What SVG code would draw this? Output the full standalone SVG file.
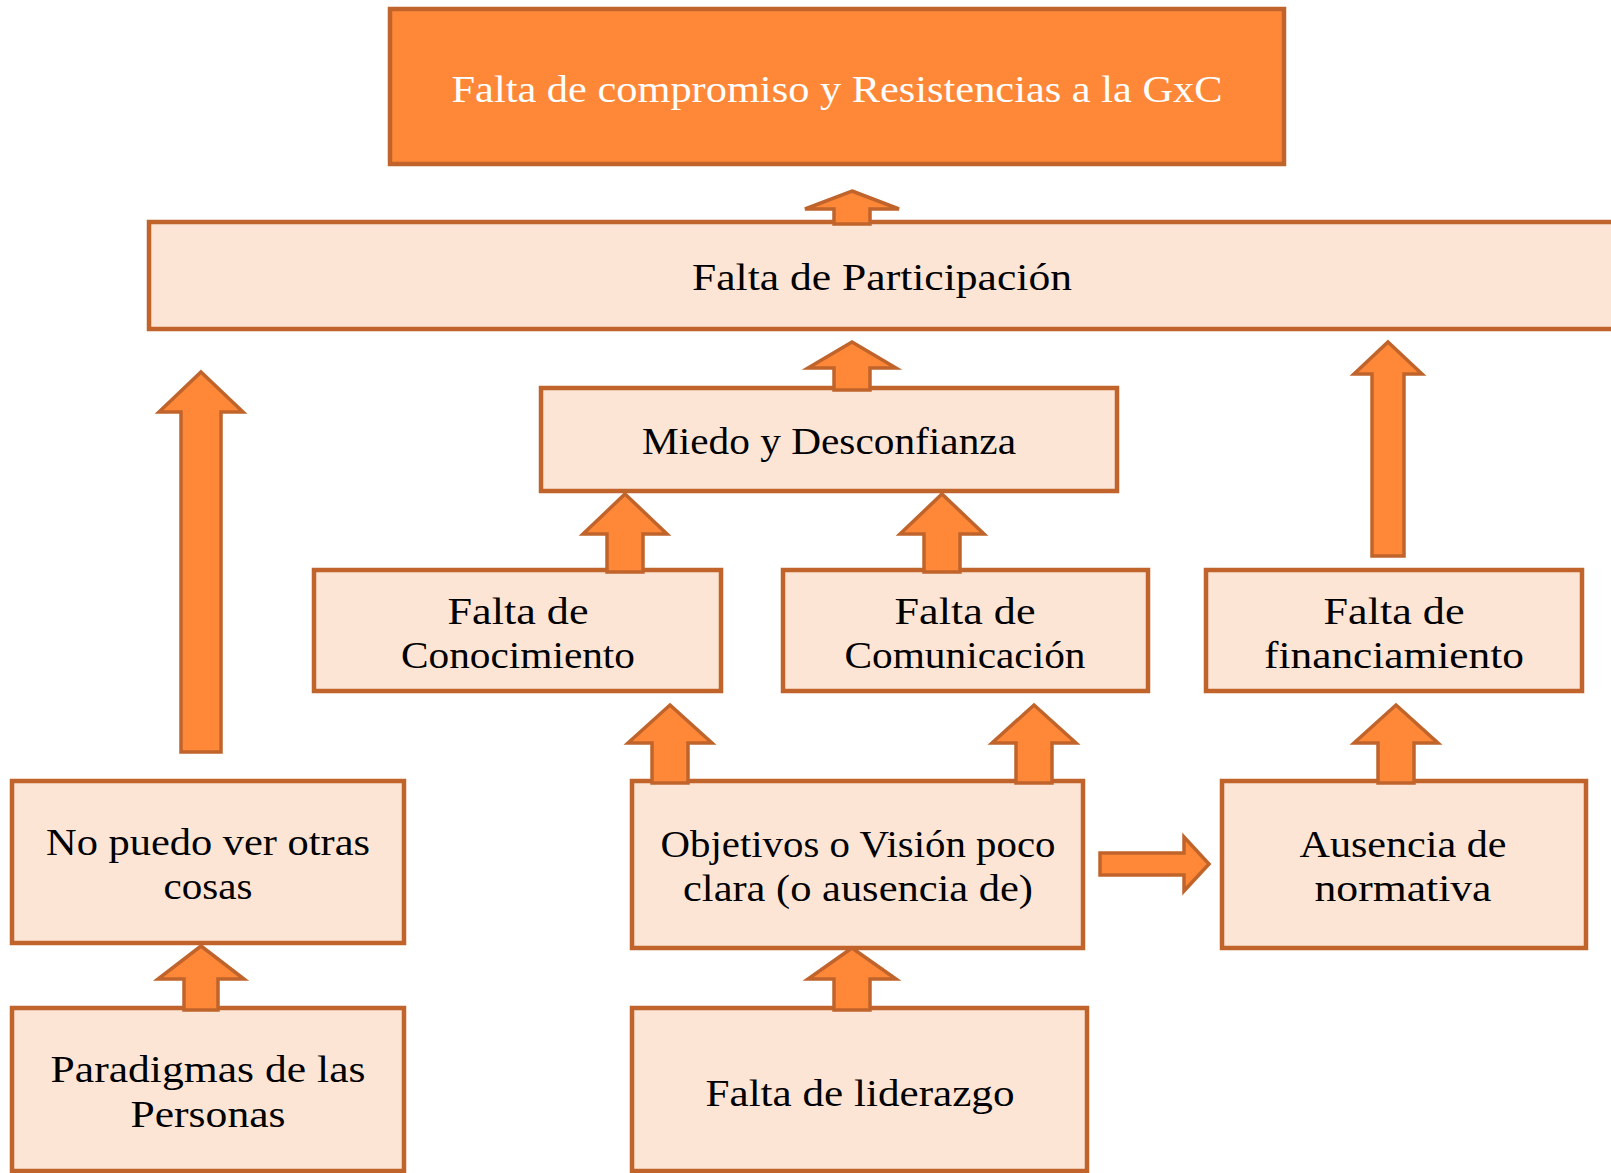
<svg xmlns="http://www.w3.org/2000/svg" width="1611" height="1173" viewBox="0 0 1611 1173">
<style>
.box{fill:#FDE5D6;stroke:#C0642B;stroke-width:4.5}
.top{fill:#FF8838;stroke:#C0642B;stroke-width:4.5}
.arr{fill:#FF8838;stroke:#C0642B;stroke-width:3.5;stroke-linejoin:miter}
.t{font-size:37px;fill:#000;text-anchor:middle}
.w{fill:#FFFFFF}
</style>
<rect width="1611" height="1173" fill="#FFFFFF"/>
<g font-family="'Liberation Serif', 'DejaVu Serif', serif">
<g id="n-top"><rect class="top" x="390" y="9" width="894" height="155"/><text class="t w" x="837" y="102" textLength="771" lengthAdjust="spacingAndGlyphs">Falta de compromiso y Resistencias a la GxC</text></g>
<g id="n-participacion"><rect class="box" x="149" y="222" width="1470" height="107"/><text class="t" x="882" y="290" textLength="380" lengthAdjust="spacingAndGlyphs">Falta de Participación</text></g>
<g id="n-miedo"><rect class="box" x="541" y="388" width="576" height="103"/><text class="t" x="829" y="454" textLength="374" lengthAdjust="spacingAndGlyphs">Miedo y Desconfianza</text></g>
<g id="n-conocimiento"><rect class="box" x="314" y="570" width="407" height="121"/><text class="t" x="518" y="624" textLength="141" lengthAdjust="spacingAndGlyphs">Falta de</text><text class="t" x="518" y="668" textLength="234" lengthAdjust="spacingAndGlyphs">Conocimiento</text></g>
<g id="n-comunicacion"><rect class="box" x="783" y="570" width="365" height="121"/><text class="t" x="965" y="624" textLength="141" lengthAdjust="spacingAndGlyphs">Falta de</text><text class="t" x="965" y="668" textLength="241" lengthAdjust="spacingAndGlyphs">Comunicación</text></g>
<g id="n-financiamiento"><rect class="box" x="1206" y="570" width="376" height="121"/><text class="t" x="1394" y="624" textLength="141" lengthAdjust="spacingAndGlyphs">Falta de</text><text class="t" x="1394" y="668" textLength="260" lengthAdjust="spacingAndGlyphs">financiamiento</text></g>
<g id="n-nopuedo"><rect class="box" x="12" y="781" width="392" height="162"/><text class="t" x="208" y="855" textLength="324" lengthAdjust="spacingAndGlyphs">No puedo ver otras</text><text class="t" x="208" y="899" textLength="89" lengthAdjust="spacingAndGlyphs">cosas</text></g>
<g id="n-paradigmas"><rect class="box" x="12" y="1008" width="392" height="163"/><text class="t" x="208" y="1082" textLength="315" lengthAdjust="spacingAndGlyphs">Paradigmas de las</text><text class="t" x="208" y="1127" textLength="155" lengthAdjust="spacingAndGlyphs">Personas</text></g>
<g id="n-objetivos"><rect class="box" x="632" y="781" width="451" height="167"/><text class="t" x="858" y="857" textLength="395" lengthAdjust="spacingAndGlyphs">Objetivos o Visión poco</text><text class="t" x="858" y="901" textLength="350" lengthAdjust="spacingAndGlyphs">clara (o ausencia de)</text></g>
<g id="n-ausencia"><rect class="box" x="1222" y="781" width="364" height="167"/><text class="t" x="1403" y="857" textLength="207" lengthAdjust="spacingAndGlyphs">Ausencia de</text><text class="t" x="1403" y="901" textLength="177" lengthAdjust="spacingAndGlyphs">normativa</text></g>
<g id="n-liderazgo"><rect class="box" x="632" y="1008" width="455" height="163"/><text class="t" x="860" y="1106" textLength="309" lengthAdjust="spacingAndGlyphs">Falta de liderazgo</text></g>
</g>
<g id="connectors">
<polygon class="arr" points="852,191 899,209 870,209 870,224 834,224 834,209 805,209"/>
<polygon class="arr" points="852,342 896,368 870,368 870,390 834,390 834,368 808,368"/>
<polygon class="arr" points="625,494 667,534 643,534 643,572 607,572 607,534 583,534"/>
<polygon class="arr" points="942,494 984,534 960,534 960,572 924,572 924,534 900,534"/>
<polygon class="arr" points="1388,342 1422,374 1404,374 1404,556 1372,556 1372,374 1354,374"/>
<polygon class="arr" points="201,372 243,412 221,412 221,752 181,752 181,412 159,412"/>
<polygon class="arr" points="201,946 244,979 218,979 218,1010 184,1010 184,979 158,979"/>
<polygon class="arr" points="852,948 896,979 870,979 870,1010 834,1010 834,979 808,979"/>
<polygon class="arr" points="670,705 712,743 688,743 688,783 652,783 652,743 628,743"/>
<polygon class="arr" points="1034,705 1076,743 1052,743 1052,783 1016,783 1016,743 992,743"/>
<polygon class="arr" points="1396,705 1438,743 1414,743 1414,783 1378,783 1378,743 1354,743"/>
<polygon class="arr" points="1209,864 1184,891 1184,875 1100,875 1100,853 1184,853 1184,837"/>
</g>
</svg>
